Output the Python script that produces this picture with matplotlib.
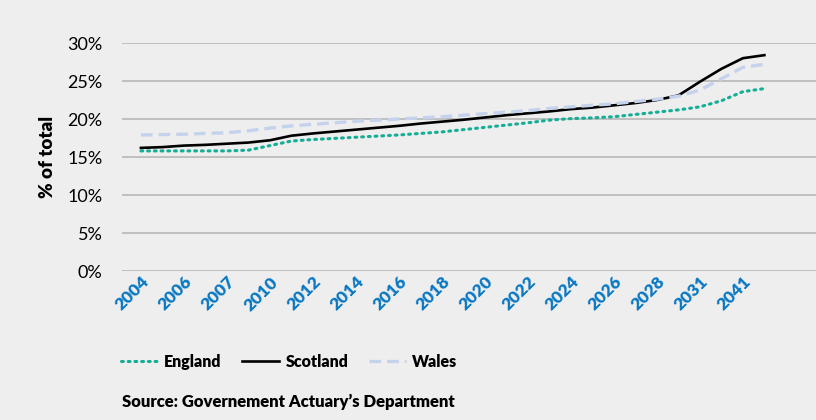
import matplotlib
matplotlib.use("Agg")
import matplotlib.pyplot as plt
import numpy as np

# shown tick labels (every other category)
labels = ["2004", "2006", "2007", "2010", "2012", "2014", "2016", "2018",
          "2020", "2022", "2024", "2026", "2028", "2031", "2041"]

# share of total (%), one value per category
england = [15.8, 15.8, 15.8, 15.8, 15.8, 15.9, 16.5, 17.1, 17.3, 17.45,
           17.6, 17.75, 17.9, 18.1, 18.3, 18.6, 18.9, 19.2, 19.5, 19.85,
           20.05, 20.15, 20.3, 20.6, 20.9, 21.2, 21.6, 22.4, 23.6, 24.0]
scotland = [16.2, 16.3, 16.5, 16.6, 16.75, 16.9, 17.2, 17.8, 18.1, 18.35,
            18.6, 18.85, 19.1, 19.4, 19.65, 19.9, 20.2, 20.5, 20.75, 21.0,
            21.3, 21.5, 21.8, 22.1, 22.5, 23.1, 24.9, 26.6, 28.0, 28.4]
wales = [17.9, 17.95, 18.0, 18.1, 18.2, 18.45, 18.8, 19.1, 19.3, 19.5,
         19.7, 19.85, 20.0, 20.15, 20.3, 20.5, 20.7, 20.9, 21.1, 21.4,
         21.6, 21.8, 22.0, 22.3, 22.6, 23.0, 23.8, 25.3, 26.8, 27.2]

bg = "#eeeeee"
plt.rcParams['font.family'] = ['Lato', 'DejaVu Sans']

fig = plt.figure(figsize=(8.16, 4.2), dpi=100, facecolor=bg)
ax = fig.add_axes([122/816, (420-271)/420, 1 - 122/816, (271-43)/420])
ax.set_facecolor(bg)

x = np.arange(len(england))
ax.plot(x, np.array(england)/100, color="#14ad96", lw=2.2, ls=(0, (0.6, 1.6)),
        dash_capstyle="round", label="England")
ax.plot(x, np.array(scotland)/100, color="black", lw=1.9, label="Scotland")
ax.plot(x, np.array(wales)/100, color="#c4d2ec", lw=2.4, ls=(0, (3.5, 1.8)),
        label="Wales")

ax.set_ylim(0, 0.30)
ax.set_xlim(-0.88, 31.4)
ax.set_yticks(np.arange(0, 0.31, 0.05))
ax.set_yticklabels([f"{v}%" for v in range(0, 31, 5)], fontsize=13)
ax.yaxis.grid(True, color="#b3b3b3", lw=1.1)
ax.set_axisbelow(True)
ax.tick_params(axis="y", length=0, pad=14)
ax.tick_params(axis="x", length=0, pad=2)

ax.set_xticks(x[::2])
ax.set_xticklabels(labels, rotation=45, ha="right", va="top",
                   rotation_mode="anchor", fontsize=12.5, fontweight="heavy",
                   color="#0a78c2")
for sp in ax.spines.values():
    sp.set_visible(False)

ax.set_ylabel("% of total", fontsize=13.5, fontweight="heavy", labelpad=8)

fig.legend(loc="center left", bbox_to_anchor=(121/816, 1 - 362/420), ncol=3,
           frameon=False, prop={"weight": "heavy", "size": 11.5},
           handlelength=2.3, handletextpad=0.4, columnspacing=1.3,
           borderpad=0, borderaxespad=0)

fig.text(122/816, 1 - 402/420, "Source: Governement Actuary’s Department",
         fontsize=12, fontweight="heavy", va="center", ha="left")

fig.savefig("out.png", dpi=100, facecolor=bg)
